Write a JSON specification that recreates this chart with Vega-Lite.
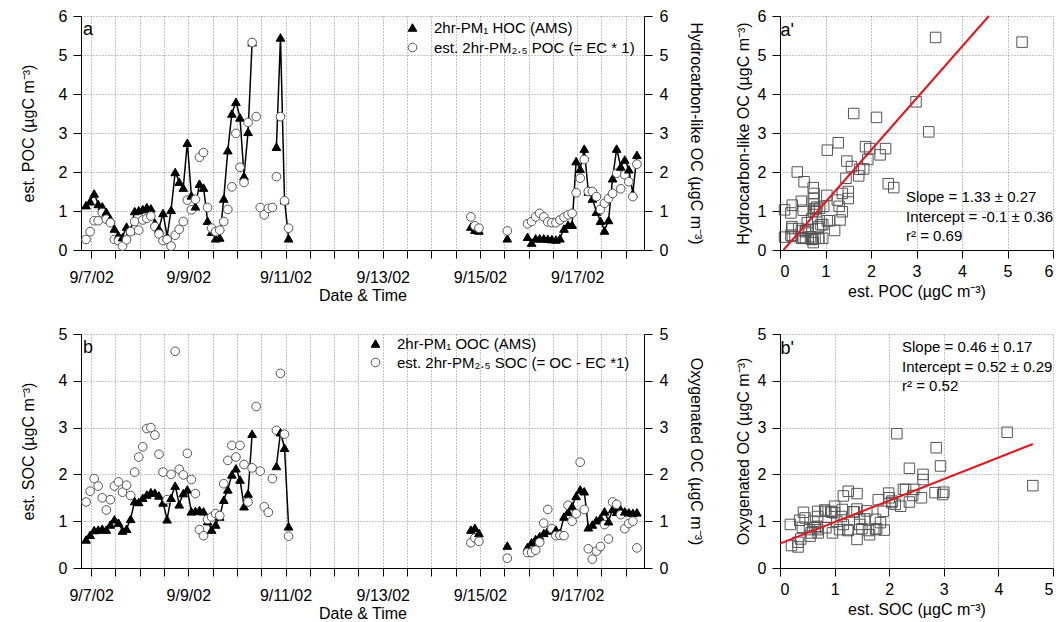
{
  "padding": {"left": 20, "top": 8, "right": 0, "bottom": 0},
  "config": {
    "font": "Liberation Sans",
    "view": {"stroke": null},
    "axis": {"labelFontSize": 16, "titleFontSize": 16, "titleFontWeight": "normal", "labelColor": "black", "titleColor": "black", "domainColor": "black", "tickColor": "black", "tickSize": 8, "gridColor": "#8c8c8c", "gridDash": [1, 2], "labelPadding": 6},
    "legend": {"labelFontSize": 15, "labelColor": "black", "symbolStrokeWidth": 1, "symbolSize": 75, "labelLimit": 0}
  },
  "resolve": {"scale": {"shape": "independent", "fill": "independent", "stroke": "independent"}},
  "data": {"values": [
      {"t": "2002-09-06T21:30", "seg": 1, "hoc": 1.15, "poc": 0.27, "ooc": 0.61, "soc": 1.41},
      {"t": "2002-09-06T23:30", "seg": 1, "hoc": 1.25, "poc": 0.47, "ooc": 0.71, "soc": 1.64},
      {"t": "2002-09-07T01:30", "seg": 1, "hoc": 1.45, "poc": 0.75, "ooc": 0.81, "soc": 1.91},
      {"t": "2002-09-07T03:30", "seg": 1, "hoc": 1.18, "poc": 0.75, "ooc": 0.82, "soc": 1.75},
      {"t": "2002-09-07T05:30", "seg": 1, "hoc": 1.12, "poc": 0.96, "ooc": 0.84, "soc": 1.5},
      {"t": "2002-09-07T07:30", "seg": 1, "hoc": 0.98, "poc": 0.79, "ooc": 0.82, "soc": 1.24},
      {"t": "2002-09-07T09:30", "seg": 1, "hoc": 0.8, "poc": 0.7, "ooc": 0.93, "soc": 1.46},
      {"t": "2002-09-07T11:30", "seg": 1, "hoc": 0.55, "poc": 0.27, "ooc": 1.04, "soc": 1.75},
      {"t": "2002-09-07T13:30", "seg": 1, "hoc": 0.38, "poc": 0.24, "ooc": 0.97, "soc": 1.84},
      {"t": "2002-09-07T15:30", "seg": 1, "hoc": 0.33, "poc": 0.1, "ooc": 0.8, "soc": 1.62},
      {"t": "2002-09-07T17:30", "seg": 1, "hoc": 0.6, "poc": 0.26, "ooc": 0.84, "soc": 1.77},
      {"t": "2002-09-07T19:30", "seg": 1, "hoc": 0.5, "poc": 0.47, "ooc": 1.05, "soc": 1.55},
      {"t": "2002-09-07T21:30", "seg": 1, "hoc": 1.0, "poc": 0.73, "ooc": 1.43, "soc": 2.05},
      {"t": "2002-09-07T23:30", "seg": 1, "hoc": 1.02, "poc": 0.51, "ooc": 1.41, "soc": 2.37},
      {"t": "2002-09-08T01:30", "seg": 1, "hoc": 1.05, "poc": 0.77, "ooc": 1.5, "soc": 2.59},
      {"t": "2002-09-08T03:30", "seg": 1, "hoc": 1.1, "poc": 0.81, "ooc": 1.57, "soc": 2.98},
      {"t": "2002-09-08T05:30", "seg": 1, "hoc": 1.07, "poc": 0.87, "ooc": 1.62, "soc": 3.0},
      {"t": "2002-09-08T07:30", "seg": 1, "hoc": 0.7, "poc": 0.6, "ooc": 1.61, "soc": 2.84},
      {"t": "2002-09-08T09:30", "seg": 1, "hoc": 0.55, "poc": 0.41, "ooc": 1.55, "soc": 2.43},
      {"t": "2002-09-08T11:30", "seg": 1, "hoc": 0.95, "poc": 0.24, "ooc": 1.4, "soc": 2.05},
      {"t": "2002-09-08T13:30", "seg": 1, "hoc": 0.35, "poc": 0.27, "ooc": 1.04, "soc": 1.46},
      {"t": "2002-09-08T15:30", "seg": 1, "hoc": 1.03, "poc": 0.1, "ooc": 1.5, "soc": 2.0},
      {"t": "2002-09-08T17:30", "seg": 1, "hoc": 2.0, "poc": 0.38, "ooc": 1.76, "soc": 4.63},
      {"t": "2002-09-08T19:30", "seg": 1, "hoc": 1.75, "poc": 0.53, "ooc": 1.36, "soc": 2.11},
      {"t": "2002-09-08T21:30", "seg": 1, "hoc": 1.6, "poc": 0.73, "ooc": 1.6, "soc": 1.99},
      {"t": "2002-09-08T23:30", "seg": 1, "hoc": 2.75, "poc": 1.28, "ooc": 1.68, "soc": 2.45},
      {"t": "2002-09-09T01:30", "seg": 1, "hoc": 1.4, "poc": 1.03, "ooc": 1.21, "soc": 1.89},
      {"t": "2002-09-09T03:30", "seg": 1, "hoc": 1.12, "poc": 1.3, "ooc": 1.22, "soc": 1.59},
      {"t": "2002-09-09T05:30", "seg": 1, "hoc": 1.7, "poc": 2.38, "ooc": 1.24, "soc": 0.82},
      {"t": "2002-09-09T07:30", "seg": 1, "hoc": 1.6, "poc": 2.5, "ooc": 1.21, "soc": 0.69},
      {"t": "2002-09-09T09:30", "seg": 1, "hoc": 0.75, "poc": 1.09, "ooc": 1.0, "soc": 1.04},
      {"t": "2002-09-09T11:30", "seg": 1, "hoc": 0.47, "poc": 0.56, "ooc": 0.82, "soc": 1.09},
      {"t": "2002-09-09T13:30", "seg": 1, "hoc": 0.3, "poc": 0.47, "ooc": 0.93, "soc": 1.16},
      {"t": "2002-09-09T15:30", "seg": 1, "hoc": 0.32, "poc": 0.51, "ooc": 1.1, "soc": 1.12},
      {"t": "2002-09-09T17:30", "seg": 1, "hoc": 1.32, "poc": 0.73, "ooc": 1.46, "soc": 1.8},
      {"t": "2002-09-09T19:30", "seg": 1, "hoc": 2.56, "poc": 1.04, "ooc": 1.68, "soc": 2.3},
      {"t": "2002-09-09T21:30", "seg": 1, "hoc": 3.5, "poc": 1.62, "ooc": 2.0, "soc": 2.62},
      {"t": "2002-09-09T23:30", "seg": 1, "hoc": 3.8, "poc": 2.99, "ooc": 2.13, "soc": 2.37},
      {"t": "2002-09-10T01:30", "seg": 1, "hoc": 3.4, "poc": 2.12, "ooc": 1.89, "soc": 2.62},
      {"t": "2002-09-10T03:30", "seg": 1, "hoc": 1.9, "poc": 1.73, "ooc": 1.32, "soc": 2.21},
      {"t": "2002-09-10T05:30", "seg": 1, "hoc": 3.03, "poc": 3.27, "ooc": 1.59, "soc": 1.41},
      {"t": "2002-09-10T07:30", "seg": 1, "hoc": 5.33, "poc": 5.32, "ooc": 2.87, "soc": 2.14},
      {"t": "2002-09-10T09:30", "seg": 1, "hoc": null, "poc": 3.42, "ooc": null, "soc": 3.45},
      {"t": "2002-09-10T11:30", "seg": 1, "hoc": null, "poc": 1.09, "ooc": null, "soc": 2.07},
      {"t": "2002-09-10T13:30", "seg": 1, "hoc": null, "poc": 0.9, "ooc": null, "soc": 1.31},
      {"t": "2002-09-10T15:30", "seg": 1, "hoc": null, "poc": 1.07, "ooc": null, "soc": 1.19},
      {"t": "2002-09-10T17:30", "seg": 1, "hoc": null, "poc": 1.09, "ooc": null, "soc": 1.91},
      {"t": "2002-09-10T19:30", "seg": 2, "hoc": 2.65, "poc": 1.88, "ooc": 2.18, "soc": 2.94},
      {"t": "2002-09-10T21:30", "seg": 2, "hoc": 5.45, "poc": 3.42, "ooc": 2.9, "soc": 4.16},
      {"t": "2002-09-10T23:30", "seg": 2, "hoc": 1.28, "poc": 1.26, "ooc": 2.57, "soc": 2.86},
      {"t": "2002-09-11T01:30", "seg": 2, "hoc": 0.3, "poc": 0.56, "ooc": 0.89, "soc": 0.68},
      {"t": "2002-09-14T19:30", "seg": 3, "hoc": 0.6, "poc": 0.85, "ooc": 0.82, "soc": 0.54},
      {"t": "2002-09-14T21:30", "seg": 3, "hoc": 0.52, "poc": 0.62, "ooc": 0.86, "soc": 0.64},
      {"t": "2002-09-14T23:30", "seg": 3, "hoc": 0.5, "poc": 0.56, "ooc": 0.75, "soc": 0.57},
      {"t": "2002-09-15T13:30", "seg": 4, "hoc": 0.3, "poc": 0.49, "ooc": 0.48, "soc": 0.21},
      {"t": "2002-09-15T23:30", "seg": 5, "hoc": 0.34, "poc": 0.67, "ooc": 0.45, "soc": 0.33},
      {"t": "2002-09-16T01:30", "seg": 5, "hoc": 0.19, "poc": 0.73, "ooc": 0.55, "soc": 0.33},
      {"t": "2002-09-16T03:30", "seg": 5, "hoc": 0.3, "poc": 0.85, "ooc": 0.62, "soc": 0.38},
      {"t": "2002-09-16T05:30", "seg": 5, "hoc": 0.3, "poc": 0.94, "ooc": 0.68, "soc": 0.55},
      {"t": "2002-09-16T07:30", "seg": 5, "hoc": 0.3, "poc": 0.85, "ooc": 0.75, "soc": 0.96},
      {"t": "2002-09-16T09:30", "seg": 5, "hoc": 0.29, "poc": 0.72, "ooc": 0.8, "soc": 1.25},
      {"t": "2002-09-16T11:30", "seg": 5, "hoc": 0.28, "poc": 0.7, "ooc": 0.86, "soc": 0.84},
      {"t": "2002-09-16T13:30", "seg": 5, "hoc": 0.27, "poc": 0.7, "ooc": 0.82, "soc": 0.69},
      {"t": "2002-09-16T15:30", "seg": 5, "hoc": 0.3, "poc": 0.77, "ooc": 0.75, "soc": 0.7},
      {"t": "2002-09-16T17:30", "seg": 5, "hoc": 0.55, "poc": 0.84, "ooc": 1.1, "soc": 0.69},
      {"t": "2002-09-16T19:30", "seg": 5, "hoc": 0.65, "poc": 0.9, "ooc": 1.2, "soc": 1.34},
      {"t": "2002-09-16T21:30", "seg": 5, "hoc": 0.65, "poc": 0.94, "ooc": 1.32, "soc": 1.0},
      {"t": "2002-09-16T23:30", "seg": 5, "hoc": 2.28, "poc": 1.47, "ooc": 1.54, "soc": 1.16},
      {"t": "2002-09-17T01:30", "seg": 5, "hoc": 2.08, "poc": 1.84, "ooc": 1.68, "soc": 2.26},
      {"t": "2002-09-17T03:30", "seg": 5, "hoc": 2.6, "poc": 2.32, "ooc": 1.64, "soc": 1.25},
      {"t": "2002-09-17T05:30", "seg": 5, "hoc": 1.5, "poc": 1.5, "ooc": 0.87, "soc": 0.41},
      {"t": "2002-09-17T07:30", "seg": 5, "hoc": 1.32, "poc": 1.5, "ooc": 0.93, "soc": 0.19},
      {"t": "2002-09-17T09:30", "seg": 5, "hoc": 0.98, "poc": 1.37, "ooc": 1.02, "soc": 0.36},
      {"t": "2002-09-17T11:30", "seg": 5, "hoc": 0.75, "poc": 1.04, "ooc": 1.07, "soc": 0.46},
      {"t": "2002-09-17T13:30", "seg": 5, "hoc": 0.5, "poc": 1.2, "ooc": 1.21, "soc": 0.93},
      {"t": "2002-09-17T15:30", "seg": 5, "hoc": 0.77, "poc": 1.32, "ooc": 1.0, "soc": 0.62},
      {"t": "2002-09-17T17:30", "seg": 5, "hoc": 1.84, "poc": 1.45, "ooc": 1.26, "soc": 1.41},
      {"t": "2002-09-17T19:30", "seg": 5, "hoc": 2.6, "poc": 1.97, "ooc": 1.2, "soc": 1.36},
      {"t": "2002-09-17T21:30", "seg": 5, "hoc": 2.14, "poc": 1.57, "ooc": 1.25, "soc": 1.14},
      {"t": "2002-09-17T23:30", "seg": 5, "hoc": 2.32, "poc": 1.93, "ooc": 1.21, "soc": 0.84},
      {"t": "2002-09-18T01:30", "seg": 5, "hoc": 2.07, "poc": 1.75, "ooc": 1.19, "soc": 0.95},
      {"t": "2002-09-18T03:30", "seg": 5, "hoc": 1.45, "poc": 1.37, "ooc": 1.18, "soc": 1.0},
      {"t": "2002-09-18T05:30", "seg": 5, "hoc": 2.44, "poc": 2.2, "ooc": 1.19, "soc": 0.43}
  ]},
  "vconcat": [
    {
      "hconcat": [
        {
          "width": 563, "height": 234,
          "title": {"text": "a", "anchor": "start", "frame": "group", "fontSize": 18, "fontWeight": "normal", "color": "black", "offset": 0, "dx": 2, "dy": 31},
          "layer": [
            {
              "mark": {"type": "line", "color": "black", "strokeWidth": 1.5},
              "encoding": {
                "x": {"field": "t", "type": "temporal", "scale": {"domain": [{"year": 2002, "month": 9, "date": 6, "hours": 19}, {"year": 2002, "month": 9, "date": 18, "hours": 9}], "nice": false},
                      "axis": {"title": "Date & Time", "grid": true, "tickCount": 23, "labelExpr": "(hours(datum.value) == 0 && date(datum.value) % 2 == 1) ? timeFormat(datum.value, '%-m/%-d/%y') : ''", "labelOverlap": false, "labelFlush": false, "labelPadding": 11, "titlePadding": 2}},
                "y": {"field": "hoc", "type": "quantitative", "scale": {"domain": [0, 6], "nice": false}, "axis": {"title": "est. POC (µgC m⁻³)", "grid": true, "titlePadding": 22}},
                "detail": {"field": "seg", "type": "nominal"}
              }
            },
            {
              "transform": [{"fold": ["hoc", "poc"], "as": ["series", "val"]}],
              "mark": {"type": "point", "size": 75, "filled": true, "opacity": 1, "strokeWidth": 1},
              "encoding": {
                "x": {"field": "t", "type": "temporal"},
                "y": {"field": "val", "type": "quantitative", "axis": {"orient": "right", "title": "Hydrocarbon-like OC (µgC m⁻³)", "grid": false, "labelPadding": 7, "titlePadding": 20}},
                "shape": {"field": "series", "type": "nominal", "scale": {"domain": ["hoc", "poc"], "range": ["triangle-up", "circle"]}, "legend": {"orient": "none", "legendX": 324, "legendY": 4, "title": null, "labelOffset": 14, "rowPadding": 4, "labelExpr": "datum.label == 'hoc' ? '2hr-PM₁ HOC (AMS)' : 'est. 2hr-PM₂.₅ POC (= EC * 1)'"}},
                "fill": {"field": "series", "type": "nominal", "scale": {"domain": ["hoc", "poc"], "range": ["black", "white"]}, "legend": {"orient": "none", "legendX": 324, "legendY": 4, "title": null, "labelOffset": 14, "rowPadding": 4, "labelExpr": "datum.label == 'hoc' ? '2hr-PM₁ HOC (AMS)' : 'est. 2hr-PM₂.₅ POC (= EC * 1)'"}},
                "stroke": {"field": "series", "type": "nominal", "scale": {"domain": ["hoc", "poc"], "range": ["black", "#555555"]}, "legend": {"orient": "none", "legendX": 324, "legendY": 4, "title": null, "labelOffset": 14, "rowPadding": 4, "labelExpr": "datum.label == 'hoc' ? '2hr-PM₁ HOC (AMS)' : 'est. 2hr-PM₂.₅ POC (= EC * 1)'"}}
              }
            }
          ],
          "resolve": {"axis": {"y": "independent"}}
        },
        {
          "width": 273, "height": 234,
          "title": {"text": ["Slope = 1.33 ± 0.27", "Intercept = -0.1 ± 0.36", "r² = 0.69"], "anchor": "start", "frame": "group", "fontSize": 15, "fontWeight": "normal", "lineHeight": 19.5, "color": "black", "offset": 0, "dx": 126, "dy": 236},
          "layer": [
            {
              "mark": {"type": "point", "shape": "square", "size": 110, "filled": false, "stroke": "#555555", "strokeWidth": 1, "opacity": 1},
              "encoding": {
                "x": {"field": "poc", "type": "quantitative", "scale": {"domain": [0, 6], "nice": false}, "axis": {"title": "est. POC (µgC m⁻³)", "grid": true, "labelPadding": 5, "titlePadding": 4}},
                "y": {"field": "hoc", "type": "quantitative", "scale": {"domain": [0, 6], "nice": false}, "axis": {"title": "Hydrocarbon-like OC (µgC m⁻³)", "grid": true, "titlePadding": 6}}
              }
            },
            {
              "data": {"values": [{"x": 0.075, "y": 0}, {"x": 4.59, "y": 6}]},
              "mark": {"type": "line", "color": "#e8141c", "strokeWidth": 2},
              "encoding": {
                "x": {"field": "x", "type": "quantitative", "axis": {"orient": "top", "title": "a'", "titleAnchor": "start", "titleAlign": "left", "titleFontSize": 18, "titlePadding": -23, "domain": false, "ticks": false, "labels": false, "grid": false}},
                "y": {"field": "y", "type": "quantitative"}
              }
            }
          ],
          "resolve": {"axis": {"x": "independent"}}
        }
      ],
      "spacing": 31
    },
    {
      "hconcat": [
        {
          "width": 563, "height": 234,
          "title": {"text": "b", "anchor": "start", "frame": "group", "fontSize": 18, "fontWeight": "normal", "color": "black", "offset": 0, "dx": 2, "dy": 31},
          "layer": [
            {
              "mark": {"type": "line", "color": "black", "strokeWidth": 1.5},
              "encoding": {
                "x": {"field": "t", "type": "temporal", "scale": {"domain": [{"year": 2002, "month": 9, "date": 6, "hours": 19}, {"year": 2002, "month": 9, "date": 18, "hours": 9}], "nice": false},
                      "axis": {"title": "Date & Time", "grid": true, "tickCount": 23, "labelExpr": "(hours(datum.value) == 0 && date(datum.value) % 2 == 1) ? timeFormat(datum.value, '%-m/%-d/%y') : ''", "labelOverlap": false, "labelFlush": false, "labelPadding": 11, "titlePadding": 2}},
                "y": {"field": "ooc", "type": "quantitative", "scale": {"domain": [0, 5], "nice": false}, "axis": {"title": "est. SOC (µgC m⁻³)", "grid": true, "titlePadding": 22}},
                "detail": {"field": "seg", "type": "nominal"}
              }
            },
            {
              "transform": [{"fold": ["ooc", "soc"], "as": ["series", "val"]}],
              "mark": {"type": "point", "size": 75, "filled": true, "opacity": 1, "strokeWidth": 1},
              "encoding": {
                "x": {"field": "t", "type": "temporal"},
                "y": {"field": "val", "type": "quantitative", "axis": {"orient": "right", "title": "Oxygenated OC (µgC m⁻³)", "grid": false, "labelPadding": 7, "titlePadding": 20}},
                "shape": {"field": "series", "type": "nominal", "scale": {"domain": ["ooc", "soc"], "range": ["triangle-up", "circle"]}, "legend": {"orient": "none", "legendX": 287, "legendY": 2, "title": null, "labelOffset": 14, "rowPadding": 3, "labelExpr": "datum.label == 'ooc' ? '2hr-PM₁ OOC (AMS)' : 'est. 2hr-PM₂.₅ SOC (= OC -  EC *1)'"}},
                "fill": {"field": "series", "type": "nominal", "scale": {"domain": ["ooc", "soc"], "range": ["black", "white"]}, "legend": {"orient": "none", "legendX": 287, "legendY": 2, "title": null, "labelOffset": 14, "rowPadding": 3, "labelExpr": "datum.label == 'ooc' ? '2hr-PM₁ OOC (AMS)' : 'est. 2hr-PM₂.₅ SOC (= OC -  EC *1)'"}},
                "stroke": {"field": "series", "type": "nominal", "scale": {"domain": ["ooc", "soc"], "range": ["black", "#555555"]}, "legend": {"orient": "none", "legendX": 287, "legendY": 2, "title": null, "labelOffset": 14, "rowPadding": 3, "labelExpr": "datum.label == 'ooc' ? '2hr-PM₁ OOC (AMS)' : 'est. 2hr-PM₂.₅ SOC (= OC -  EC *1)'"}}
              }
            }
          ],
          "resolve": {"axis": {"y": "independent"}}
        },
        {
          "width": 273, "height": 234,
          "title": {"text": ["Slope = 0.46 ± 0.17", "Intercept = 0.52 ± 0.29", "r² = 0.52"], "anchor": "start", "frame": "group", "fontSize": 15, "fontWeight": "normal", "lineHeight": 19.5, "color": "black", "offset": 0, "dx": 122, "dy": 68},
          "layer": [
            {
              "mark": {"type": "point", "shape": "square", "size": 110, "filled": false, "stroke": "#555555", "strokeWidth": 1, "opacity": 1},
              "encoding": {
                "x": {"field": "soc", "type": "quantitative", "scale": {"domain": [0, 5], "nice": false}, "axis": {"title": "est. SOC (µgC m⁻³)", "grid": true, "labelPadding": 5, "titlePadding": 4}},
                "y": {"field": "ooc", "type": "quantitative", "scale": {"domain": [0, 5], "nice": false}, "axis": {"title": "Oxygenated OC (µgC m⁻³)", "grid": true, "titlePadding": 6}}
              }
            },
            {
              "data": {"values": [{"x": 0, "y": 0.52}, {"x": 4.63, "y": 2.65}]},
              "mark": {"type": "line", "color": "#e8141c", "strokeWidth": 2},
              "encoding": {
                "x": {"field": "x", "type": "quantitative", "axis": {"orient": "top", "title": "b'", "titleAnchor": "start", "titleAlign": "left", "titleFontSize": 18, "titlePadding": -23, "domain": false, "ticks": false, "labels": false, "grid": false}},
                "y": {"field": "y", "type": "quantitative"}
              }
            }
          ],
          "resolve": {"axis": {"x": "independent"}}
        }
      ],
      "spacing": 31
    }
  ],
  "spacing": 23
}
